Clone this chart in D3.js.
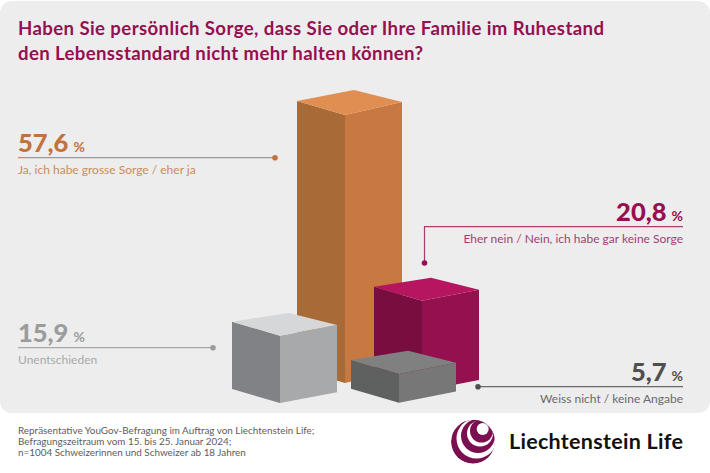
<!DOCTYPE html>
<html lang="de">
<head>
<meta charset="utf-8">
<script src="https://cdn.jsdelivr.net/npm/d3@7"></script>
<style>
html,body{margin:0;padding:0;background:#fff;overflow:hidden}
svg{display:block}
text{font-family:Lato,"Open Sans",sans-serif}
</style>
</head>
<body>
<svg id="c" width="710" height="473"></svg>
<script>
// ---- data ----
const titleLines = [
  "Haben Sie persönlich Sorge, dass Sie oder Ihre Familie im Ruhestand",
  "den Lebensstandard nicht mehr halten können?"
];
const categories = [
  "Ja, ich habe grosse Sorge / eher ja",
  "Eher nein / Nein, ich habe gar keine Sorge",
  "Unentschieden",
  "Weiss nicht / keine Angabe"
];
const values = [57.6, 20.8, 15.9, 5.7];
const footnotes = [
  "Repräsentative YouGov-Befragung im Auftrag von Liechtenstein Life;",
  "Befragungszeitraum vom 15. bis 25. Januar 2024;",
  "n=1004 Schweizerinnen und Schweizer ab 18 Jahren"
];
const brand = "Liechtenstein Life";

// ---- scales ----
// The drawn block heights in the source graphic are not strictly proportional,
// so the height scale is piecewise through the four values.
const height = d3.scaleLinear().domain([5.7, 15.9, 20.8, 57.6]).range([28.7, 67.3, 90.3, 268]);
const frontX = d3.scaleOrdinal().domain(categories).range([345, 422, 280, 399]);
const groundY = d3.scaleOrdinal().domain(categories).range([383, 391, 403, 402.7]);
const riseR = d3.scaleOrdinal().domain(categories).range([13, 11, 10.7, 11.3]);
const topCol = d3.scaleOrdinal().domain(categories).range(["#e08e52", "#b5165f", "#d5d7d9", "#808080"]);
const leftCol = d3.scaleOrdinal().domain(categories).range(["#a86a36", "#780e3f", "#808285", "#5f6060"]);
const rightCol = d3.scaleOrdinal().domain(categories).range(["#c77941", "#95104f", "#a7a9ab", "#777777"]);
const textCol = d3.scaleOrdinal().domain(categories).range(["#c1733d", "#960f50", "#9c9c9c", "#4f4f4f"]);
const subCol = d3.scaleOrdinal().domain(categories).range(["#c98b60", "#a63d74", "#a9a9a9", "#6a6a6a"]);

const svg = d3.select("#c");

// ---- panel ----
svg.append("rect").attr("x", 0).attr("y", 1).attr("width", 710).attr("height", 412)
  .attr("rx", 12).attr("ry", 12).attr("fill", "#ededed");

// ---- title ----
svg.selectAll("text.title").data(titleLines).join("text").attr("class", "title")
  .attr("x", 18).attr("y", (d, i) => 35 + i * 25)
  .attr("fill", "#960f50").attr("font-size", 18.6).attr("font-weight", 700)
  .attr("textLength", (d, i) => [586, 405][i]).attr("lengthAdjust", "spacing")
  .text(d => d);

// ---- blocks ----
const L = 48, R = 57, riseL = 14, backInset = 2;
const line = d3.line();
const data = categories.map((c, i) => ({ c, v: values[i] }));
const blocks = svg.selectAll("g.block").data(data).join("g").attr("class", "block");
blocks.each(function (d) {
  const g = d3.select(this);
  const x = frontX(d.c), b = groundY(d.c), t = b - height(d.v), rr = riseR(d.c);
  g.append("path").attr("fill", leftCol(d.c))
    .attr("d", line([[x, t], [x - L, t - riseL], [x - L, b - riseL], [x, b]]) + "Z");
  g.append("path").attr("fill", rightCol(d.c))
    .attr("d", line([[x, t], [x + R, t - rr], [x + R, b - rr], [x, b]]) + "Z");
  g.append("path").attr("fill", topCol(d.c))
    .attr("d", line([[x, t], [x - L, t - riseL], [x - L + R, t - riseL - rr + backInset], [x + R, t - rr]]) + "Z");
});

// ---- callouts ----
const fmt = v => d3.format(".1f")(v).replace(".", ",");
const anchorKind = d3.scaleOrdinal().domain(categories).range(["start", "end", "start", "end"]);
const textEdge = d3.scaleOrdinal().domain(categories).range([18, 683, 18, 683]);
const baseY = d3.scaleOrdinal().domain(categories).range([152, 221, 342, 381]);
const ruleEnd = d3.scaleOrdinal().domain(categories).range([275, 424.5, 213, 478]);

data.forEach(d => {
  const col = textCol(d.c), y = baseY(d.c), edge = textEdge(d.c);
  const t = svg.append("text").attr("x", edge).attr("y", y).attr("text-anchor", anchorKind(d.c)).attr("fill", col);
  t.append("tspan").attr("font-size", 25.5).attr("font-weight", 900).text(fmt(d.v));
  t.append("tspan").attr("font-size", 14).attr("font-weight", 700).attr("dx", 5).text("%");
  svg.append("text").attr("x", edge).attr("y", y + 21.5).attr("text-anchor", anchorKind(d.c))
    .attr("fill", subCol(d.c)).attr("font-size", 12).text(d.c);
  const ry = y + 5.7;
  const dotY = d.c === categories[1] ? 263 : ry;
  const pts = d.c === categories[1]
    ? [[edge, ry], [ruleEnd(d.c), ry], [ruleEnd(d.c), dotY]]
    : [[edge, ry], [ruleEnd(d.c), ry]];
  svg.append("path").attr("d", line(pts)).attr("fill", "none").attr("stroke", subCol(d.c)).attr("stroke-width", 1.2);
  svg.append("circle").attr("cx", ruleEnd(d.c)).attr("cy", dotY).attr("r", 2.8).attr("fill", col);
});

// ---- footer ----
svg.selectAll("text.foot").data(footnotes).join("text").attr("class", "foot")
  .attr("x", 18).attr("y", (d, i) => 433.5 + i * 11.2)
  .attr("fill", "#5c5c5c").attr("font-size", 9.9).text(d => d);

// ---- logo ----
svg.append("defs").append("clipPath").attr("id", "ball").append("circle")
  .attr("cx", 473).attr("cy", 441.7).attr("r", 22);
const rings = [
  [473, 441.7, 22, "#7b1050"],
  [476.5, 438.5, 20, "#fff"],
  [478, 436, 17, "#7b1050"],
  [480, 433.5, 13, "#fff"],
  [481.5, 431, 11.5, "#7b1050"],
  [482.7, 429, 6, "#fff"]
];
svg.append("g").attr("clip-path", "url(#ball)").selectAll("circle").data(rings).join("circle")
  .attr("cx", d => d[0]).attr("cy", d => d[1]).attr("r", d => d[2]).attr("fill", d => d[3]);
svg.append("text").attr("x", 509).attr("y", 449).attr("font-size", 21.5).attr("font-weight", 700)
  .attr("fill", "#111").attr("textLength", 174).text(brand);
</script>
</body>
</html>
